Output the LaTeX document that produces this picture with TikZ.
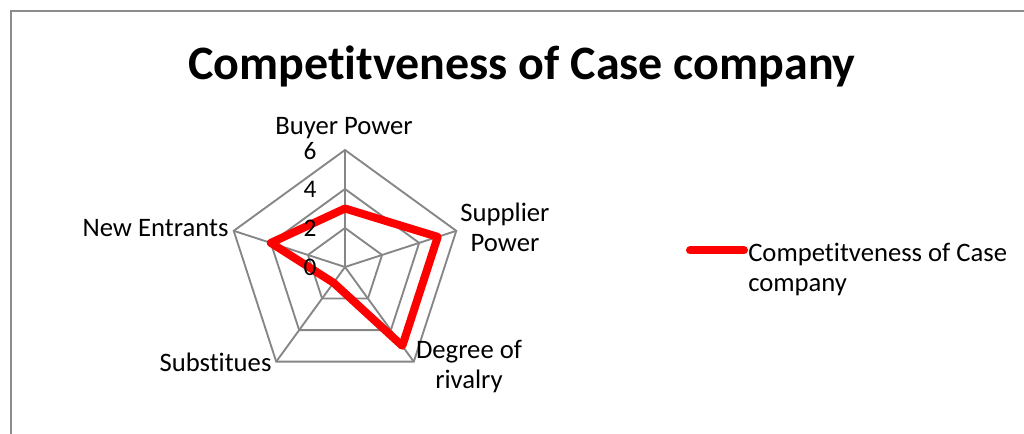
\documentclass[tikz,border=0pt]{standalone}
\usepackage{fontspec}
\setmainfont{Carlito}[Ligatures=NoCommon]
\definecolor{gridgray}{HTML}{868686}
\definecolor{framegray}{HTML}{8C8C8C}
\definecolor{seriesred}{HTML}{FF0000}
\tikzset{
  gridline/.style={draw=gridgray, line width=1.4pt},
  seriesline/.style={draw=seriesred, line width=6pt, line join=round},
  axislabel/.style={anchor=base, align=center, inner sep=0pt,
    font=\fontsize{20pt}{22.5pt}\selectfont},
  ticklabel/.style={anchor=base, inner sep=0pt, font=\fontsize{19pt}{22pt}\selectfont}
}
\begin{document}
\begin{tikzpicture}[x=0.75pt, y=-0.75pt]
    \useasboundingbox (0,0) rectangle (1024,434);
    \clip (0,0) rectangle (1024,434);
    \fill[white] (0,0) rectangle (1024,434);
    \draw[framegray, line width=1.5pt] (11,11) rectangle (1040,450);

    \node[anchor=base, inner sep=0pt, font=\fontsize{36pt}{42pt}\selectfont\bfseries] (title) at (522,80) {Competitveness of Case company};

    \coordinate (radarcenter) at (345,267);
    \begin{scope}[shift={(radarcenter)}]
    % rings at 2, 4 and 6
    \foreach \r in {2,4,6}
        \draw[gridline] (-90:\r*19.5) -- (-18:\r*19.5) -- (54:\r*19.5) -- (126:\r*19.5) -- (198:\r*19.5) -- cycle;
    \foreach \a [count=\i] in {-90,-18,54,126,198} {
        \coordinate (axis\i) at (\a:117);
        \draw[gridline] (0,0) -- (axis\i);
    }
    % series
    \coordinate (buyer) at (-90:3*19.5);
    \coordinate (supplier) at (-18:5*19.5);
    \coordinate (rivalry) at (54:5*19.5);
    \coordinate (substitutes) at (126:1*19.5);
    \coordinate (entrants) at (198:4*19.5);
    \draw[seriesline] (buyer) -- (supplier) -- (rivalry) -- (substitutes) -- (entrants) -- cycle;
    \end{scope}

    \foreach \v/\y in {0/276,2/237,4/198,6/160}
        \node[ticklabel] (tick\v) at (310,\y) {\v};

    \node[axislabel] (buyerlabel) at (344,135) {Buyer Power};
    \node[axislabel] (supplierlabel) at (505,251.5) {Supplier\\Power};
    \node[axislabel] (rivalrylabel) at (469,388) {Degree of\\rivalry};
    \node[axislabel] (substituteslabel) at (215.5,371.5) {Substitues};
    \node[axislabel] (entrantslabel) at (155.5,237) {New Entrants};

    % legend
    \coordinate (legendstart) at (690,250.5);
    \coordinate (legendend) at (744,250.5);
    \draw[seriesred, line width=6pt, line cap=round] (legendstart) -- (legendend);
    \node[axislabel, anchor=base west, align=left] (legendlabel) at (748,291.5) {Competitveness of Case\\company};
\end{tikzpicture}
\end{document}
